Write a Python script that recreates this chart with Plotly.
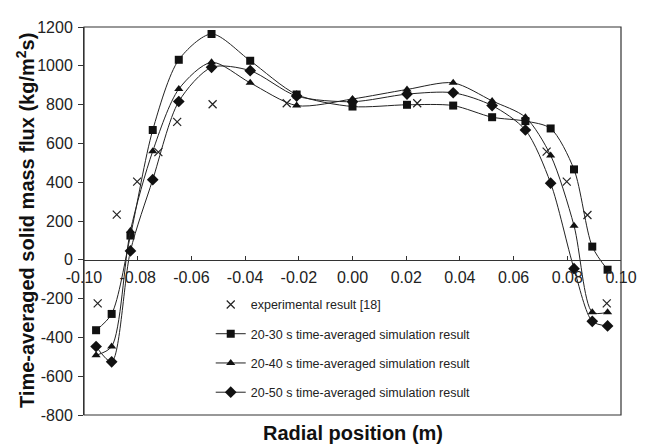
import plotly.graph_objects as go

# Data
exp_x = [-0.0949, -0.0878, -0.0802, -0.0723, -0.0653, -0.0521, -0.0245, 0.0241, 0.0723, 0.0798, 0.0875, 0.0947]
exp_y = [-225, 233, 403, 555, 711, 802, 807, 807, 558, 403, 231, -225]

sim_x = [-0.0955, -0.0897, -0.0827, -0.0744, -0.0647, -0.0525, -0.0381, -0.0208, 0.0,
         0.0203, 0.0375, 0.0520, 0.0644, 0.0738, 0.0825, 0.0893, 0.0950]
s2030 = [-363, -279, 125, 669, 1031, 1164, 1026, 852, 790, 799, 795, 735, 715, 677, 466, 68, -51]
s2040 = [-492, -447, 150, 560, 880, 1018, 912, 795, 829, 878, 912, 819, 735, 538, 176, -270, -270]
s2050 = [-447, -526, 46, 413, 816, 992, 975, 844, 815, 854, 861, 795, 669, 395, -46, -317, -341]

x_ticks = [-0.10, -0.08, -0.06, -0.04, -0.02, 0.00, 0.02, 0.04, 0.06, 0.08, 0.10]
x_tick_text = ["-0.10", "-0.08", "-0.06", "-0.04", "-0.02", "0.00", "0.02", "0.04", "0.06", "0.08", "0.10"]
y_ticks = [-800, -600, -400, -200, 0, 200, 400, 600, 800, 1000, 1200]
y_tick_text = ["-800", "-600", "-400", "-200", "0", "200", "400", "600", "800", "1000", "1200"]

names = ["20-30 s time-averaged simulation result",
         "20-40 s time-averaged simulation result",
         "20-50 s time-averaged simulation result"]
symbols = ["square", "triangle-up", "diamond"]

fig = go.Figure()
fig.add_trace(go.Scatter(x=exp_x, y=exp_y, mode="markers", name="experimental result [18]",
                         legendgroup="g0",
                         marker=dict(symbol="x-thin", size=8, line=dict(color="#222", width=1.2), color="#222")))
for i, (ys, nm, sym) in enumerate(zip([s2030, s2040, s2050], names, symbols)):
    fig.add_trace(go.Scatter(x=sim_x, y=ys, mode="lines+markers", name=nm, legendgroup=f"g{i+1}",
                             line=dict(color="#222", width=1, shape="spline", smoothing=0.8),
                             marker=dict(symbol=sym, size=8 if sym != "diamond" else 9, color="#111")))

fig.update_layout(
    width=652, height=444,
    margin=dict(l=76, r=39, t=11, b=37),
    paper_bgcolor="white", plot_bgcolor="white",
    font=dict(family="Liberation Sans, Arial, sans-serif", color="#222"),
    showlegend=True,
    legend=dict(x=0.236, y=0.3226, xanchor="left", yanchor="top", bgcolor="rgba(0,0,0,0)",
                font=dict(size=12.5, color="#222"), tracegroupgap=10, traceorder="grouped"),
    xaxis=dict(range=[-0.1, 0.1], tickvals=x_ticks, ticktext=x_tick_text, anchor="free", position=0.4,
               showline=True, linecolor="#333", linewidth=1, ticks="inside", ticklen=4, tickcolor="#333",
               showgrid=False, zeroline=False, tickfont=dict(size=16, color="#222"), ticklabelstandoff=3),
    yaxis=dict(range=[-800, 1200], tickvals=y_ticks, ticktext=y_tick_text, showline=True,
               linecolor="#333", linewidth=1, ticks="outside", ticklen=5, tickcolor="#333",
               showgrid=False, zeroline=False, tickfont=dict(size=16, color="#222"), ticklabelstandoff=2),
    shapes=[dict(type="rect", xref="paper", yref="paper", x0=0, x1=1, y0=0, y1=1,
                 line=dict(color="#333", width=1.2))],
    annotations=[
        dict(text="<b>Radial position (m)</b>", xref="paper", yref="paper", x=0.5, y=0,
             xanchor="center", yanchor="top", yshift=-5, showarrow=False, font=dict(size=20, color="#111")),
        dict(text="<b>Time-averaged solid mass flux (kg/m<sup>2</sup>s)</b>", xref="paper", yref="paper",
             x=0, y=0.5, xshift=-59, xanchor="center", yanchor="middle", textangle=-90, showarrow=False,
             font=dict(size=20, color="#111")),
    ],
)

fig.write_html("out.html")
